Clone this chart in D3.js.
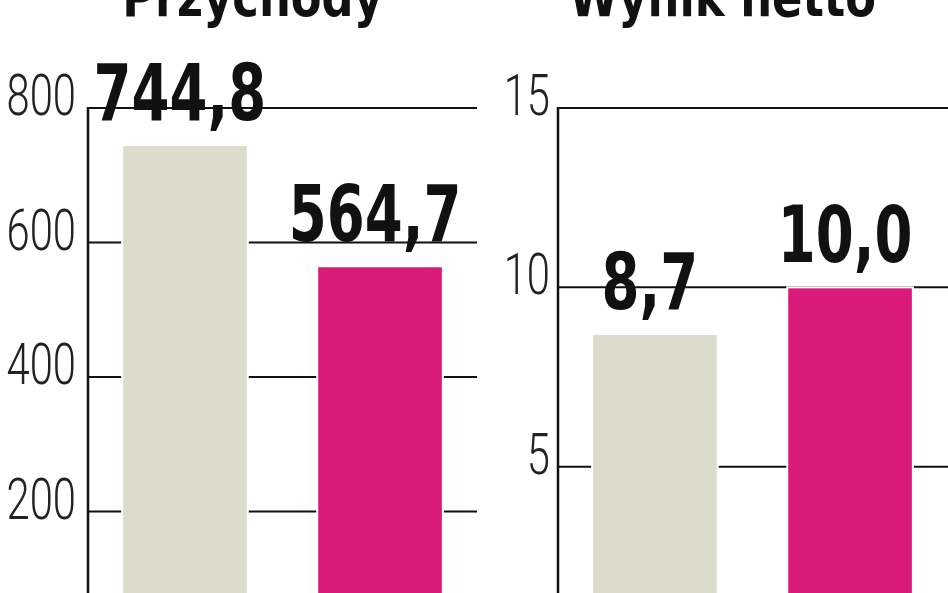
<!DOCTYPE html>
<html>
<head>
<meta charset="utf-8">
<script src="https://cdn.jsdelivr.net/npm/d3@7"></script>
<style>
  html, body { margin: 0; padding: 0; background: #fff; overflow: hidden; }
</style>
</head>
<body>
<div id="chart"></div>
<script>
// Data
var periods = ["poprzedni okres", "bieżący okres"];
var revenue = [744.8, 564.7];     // Przychody
var netIncome = [8.7, 10.0];      // Wynik netto
var revenueTicks = [200, 400, 600, 800];
var incomeTicks = [5, 10, 15];
var titles = ["Przychody", "Wynik netto"];
var barColors = ["#dcdccd", "#d91a78"];

var width = 948;
var height = 593;

var pl = d3.formatLocale({ decimal: ",", thousands: " ", grouping: [3], currency: ["", " zł"] });
var fmtValue = pl.format(".1f");

var svg = d3
  .select("#chart")
  .append("svg")
  .attr("width", width)
  .attr("height", height)
  .attr("viewBox", [0, 0, width, height]);

// two panels side by side
var panels = [
  { title: titles[0], values: revenue, ticks: revenueTicks, max: 800, left: 88, right: 477, gridEnd: 477, tickPad: 12 },
  { title: titles[1], values: netIncome, ticks: incomeTicks, max: 15, left: 558, right: 947, gridEnd: 948, tickPad: 8 },
];

var yTop = 108, yZero = 646;

panels.forEach(function (p) {
  var g = svg.append("g");

  var x = d3
    .scaleBand()
    .domain(periods)
    .range([p.left, p.right])
    .paddingInner(0.356)
    .paddingOuter(0.175);

  var y = d3.scaleLinear().domain([0, p.max]).range([yZero, yTop]);

  // gridlines
  g.append("g")
    .selectAll("line")
    .data(p.ticks)
    .join("line")
    .attr("x1", p.left)
    .attr("x2", p.gridEnd)
    .attr("y1", (d) => y(d))
    .attr("y2", (d) => y(d))
    .attr("stroke", "#111")
    .attr("stroke-width", 2);

  // tick labels (thin, condensed)
  g.append("g")
    .selectAll("text")
    .data(p.ticks)
    .join("text")
    .attr("transform", (d) => `translate(${p.left - p.tickPad},${y(d) + 7}) scale(0.72,1)`)
    .attr("text-anchor", "end")
    .attr("font-family", "Roboto, 'DejaVu Sans', sans-serif")
    .attr("font-weight", 300)
    .attr("font-size", 58)
    .attr("fill", "#222")
    .text((d) => d);

  // bars
  g.append("g")
    .selectAll("rect")
    .data(p.values)
    .join("rect")
    .attr("x", (d, i) => x(periods[i]))
    .attr("y", (d) => y(d))
    .attr("width", x.bandwidth())
    .attr("height", (d) => yZero - y(d))
    .attr("fill", (d, i) => barColors[i])
    .attr("stroke", "#fff")
    .attr("stroke-width", 2);

  // vertical axis
  g.append("line")
    .attr("x1", p.left)
    .attr("x2", p.left)
    .attr("y1", yTop - 1)
    .attr("y2", height + 5)
    .attr("stroke", "#111")
    .attr("stroke-width", 2.5);

  // value labels
  g.append("g")
    .selectAll("text")
    .data(p.values)
    .join("text")
    .attr("transform", (d, i) => `translate(${x(periods[i]) + x.bandwidth() / 2 - 5},${y(d) - 25}) scale(0.7,1)`)
    .attr("text-anchor", "middle")
    .attr("font-family", "'DejaVu Sans', sans-serif")
    .attr("font-weight", "bold")
    .attr("font-size", 78)
    .attr("fill", "#111")
    .text((d) => fmtValue(d));

  // title (cropped at the top edge, as in the source)
  g.append("text")
    .attr("transform", `translate(${(p.left + p.right) / 2 - 30},16) scale(0.8,1)`)
    .attr("text-anchor", "middle")
    .attr("font-family", "'DejaVu Sans', sans-serif")
    .attr("font-weight", "bold")
    .attr("font-size", 56)
    .attr("fill", "#111")
    .text(p.title);
});
</script>
</body>
</html>
